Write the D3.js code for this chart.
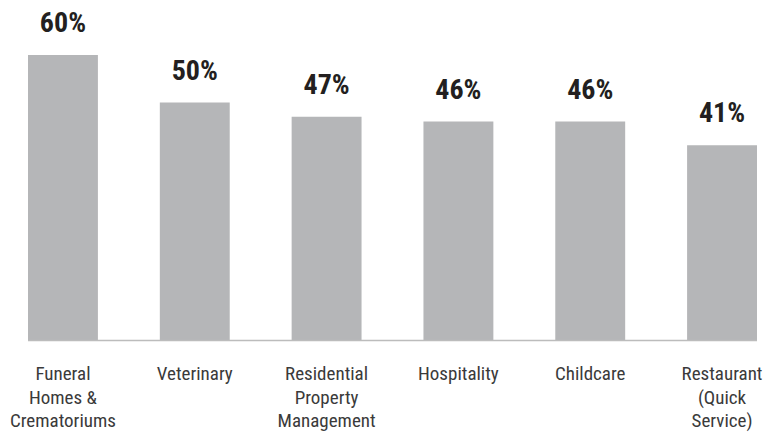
<!DOCTYPE html>
<html>
<head>
<meta charset="utf-8">
<script src="https://cdn.jsdelivr.net/npm/d3@7"></script>
<style>
  html, body { margin: 0; padding: 0; background: #fff; }
  svg { display: block; }
  .narrow { font-family: "Liberation Sans Narrow", "Arial Narrow", "Roboto Condensed", sans-serif; }
</style>
</head>
<body>
<svg id="chart" width="765" height="432"></svg>
<script>
// Share of businesses by industry
const categories = [
  "Funeral Homes & Crematoriums",
  "Veterinary",
  "Residential Property Management",
  "Hospitality",
  "Childcare",
  "Restaurant (Quick Service)"
];
const categoryLines = [
  ["Funeral", "Homes &", "Crematoriums"],
  ["Veterinary"],
  ["Residential", "Property", "Management"],
  ["Hospitality"],
  ["Childcare"],
  ["Restaurant", "(Quick", "Service)"]
];
const values = [60, 50, 47, 46, 46, 41];

const svg = d3.select("#chart");

const x = d3.scaleBand()
  .domain(categories)
  .range([28, 757])
  .paddingInner(0.4697)
  .paddingOuter(0);

const y = d3.scaleLinear()
  .domain([0, 60])
  .range([340, 55]);

// bars
svg.append("g")
  .selectAll("rect")
  .data(values)
  .join("rect")
  .attr("x", (d, i) => x(categories[i]))
  .attr("y", d => y(d))
  .attr("width", x.bandwidth())
  .attr("height", d => y(0) - y(d))
  .attr("fill", "#b5b6b8");

// baseline
svg.append("line")
  .attr("x1", x.range()[0])
  .attr("x2", x.range()[1])
  .attr("y1", y(0) + 0.5)
  .attr("y2", y(0) + 0.5)
  .attr("stroke", "#bcbcbc")
  .attr("stroke-width", 1.5);

// value labels
svg.append("g")
  .selectAll("text")
  .data(values)
  .join("text")
  .attr("class", "narrow")
  .attr("x", (d, i) => x(categories[i]) + x.bandwidth() / 2)
  .attr("y", d => y(d) - 23)
  .attr("text-anchor", "middle")
  .attr("font-size", 28)
  .attr("font-weight", "bold")
  .attr("fill", "#231f20")
  .text(d => d + "%");

// category labels
const cat = svg.append("g")
  .selectAll("text")
  .data(categories)
  .join("text")
  .attr("class", "narrow")
  .attr("x", d => x(d) + x.bandwidth() / 2)
  .attr("y", 380)
  .attr("text-anchor", "middle")
  .attr("font-size", 19)
  .attr("fill", "#3a3a3a");

cat.selectAll("tspan")
  .data((d, i) => categoryLines[i])
  .join("tspan")
  .attr("x", function () { return this.parentNode.getAttribute("x"); })
  .attr("dy", (d, i) => i === 0 ? 0 : 23.5)
  .text(d => d);
</script>
</body>
</html>
